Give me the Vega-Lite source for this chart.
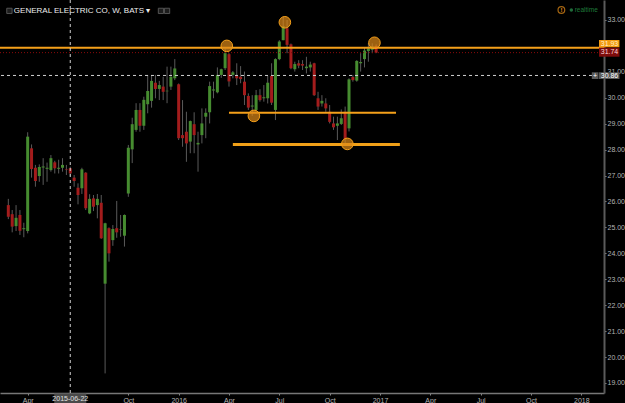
{
"$schema": "https://vega.github.io/schema/vega-lite/v6.json",
"width": 604, "height": 393,
"autosize": {"type": "none"},
"padding": {"left": 0, "top": 0, "right": 21, "bottom": 10},
"background": "#000000",
"config": {"view": {"stroke": null, "fill": "#000000"}, "font": "Liberation Sans",
"axisY": {"labelOverlap": false, "labelBound": false, "labelSeparation": 0}},
"datasets": {
"candles": [
{"d":"2015-03-02","o":25.86,"h":26.10,"l":25.32,"c":25.41},
{"d":"2015-03-09","o":25.51,"h":25.67,"l":24.81,"c":25.03},
{"d":"2015-03-16","o":25.05,"h":25.86,"l":24.86,"c":25.37},
{"d":"2015-03-23","o":25.48,"h":25.67,"l":24.71,"c":24.87},
{"d":"2015-03-30","o":24.93,"h":25.18,"l":24.62,"c":24.97},
{"d":"2015-04-06","o":24.86,"h":28.67,"l":24.77,"c":28.50},
{"d":"2015-04-13","o":28.05,"h":28.20,"l":26.92,"c":27.25},
{"d":"2015-04-20","o":27.30,"h":27.41,"l":26.57,"c":26.79},
{"d":"2015-04-27","o":26.98,"h":27.43,"l":26.76,"c":27.33},
{"d":"2015-05-04","o":27.31,"h":27.67,"l":26.64,"c":27.35},
{"d":"2015-05-11","o":27.26,"h":27.50,"l":26.76,"c":27.30},
{"d":"2015-05-18","o":27.21,"h":27.79,"l":27.15,"c":27.67},
{"d":"2015-05-25","o":27.51,"h":27.57,"l":27.08,"c":27.28},
{"d":"2015-06-01","o":27.26,"h":27.61,"l":27.08,"c":27.30},
{"d":"2015-06-08","o":27.30,"h":27.67,"l":27.15,"c":27.41},
{"d":"2015-06-15","o":27.25,"h":27.41,"l":27.02,"c":27.23},
{"d":"2015-06-22","o":27.28,"h":27.34,"l":26.96,"c":27.08},
{"d":"2015-06-29","o":26.92,"h":27.02,"l":26.57,"c":26.79},
{"d":"2015-07-06","o":26.53,"h":26.70,"l":25.89,"c":26.25},
{"d":"2015-07-13","o":26.51,"h":27.30,"l":26.29,"c":27.24},
{"d":"2015-07-20","o":27.11,"h":27.13,"l":25.67,"c":25.74},
{"d":"2015-07-27","o":25.54,"h":26.28,"l":25.51,"c":26.10},
{"d":"2015-08-03","o":26.12,"h":26.25,"l":25.63,"c":25.80},
{"d":"2015-08-10","o":25.86,"h":26.29,"l":25.35,"c":26.10},
{"d":"2015-08-17","o":25.95,"h":26.25,"l":24.56,"c":24.58},
{"d":"2015-08-24","o":22.83,"h":25.18,"l":19.37,"c":25.16},
{"d":"2015-08-31","o":24.97,"h":25.00,"l":23.68,"c":24.00},
{"d":"2015-09-07","o":24.51,"h":25.09,"l":24.29,"c":24.94},
{"d":"2015-09-14","o":24.97,"h":26.02,"l":24.60,"c":24.81},
{"d":"2015-09-21","o":24.92,"h":25.48,"l":24.64,"c":24.94},
{"d":"2015-09-28","o":24.68,"h":25.50,"l":24.26,"c":25.48},
{"d":"2015-10-05","o":26.31,"h":28.18,"l":26.18,"c":28.07},
{"d":"2015-10-12","o":28.01,"h":29.23,"l":27.48,"c":28.98},
{"d":"2015-10-19","o":28.76,"h":29.79,"l":28.69,"c":29.53},
{"d":"2015-10-26","o":29.53,"h":29.79,"l":28.69,"c":28.92},
{"d":"2015-11-02","o":28.92,"h":30.04,"l":28.76,"c":29.92},
{"d":"2015-11-09","o":29.75,"h":30.88,"l":29.40,"c":30.26},
{"d":"2015-11-16","o":29.88,"h":30.88,"l":29.62,"c":30.65},
{"d":"2015-11-23","o":30.58,"h":30.88,"l":29.98,"c":30.34},
{"d":"2015-11-30","o":30.34,"h":30.65,"l":29.91,"c":30.49},
{"d":"2015-12-07","o":30.43,"h":30.81,"l":29.91,"c":30.23},
{"d":"2015-12-14","o":30.25,"h":31.20,"l":29.79,"c":30.27},
{"d":"2015-12-21","o":30.43,"h":31.20,"l":30.30,"c":30.81},
{"d":"2015-12-28","o":30.75,"h":31.49,"l":30.68,"c":31.13},
{"d":"2016-01-04","o":30.52,"h":30.55,"l":28.37,"c":28.44},
{"d":"2016-01-11","o":28.56,"h":29.91,"l":28.11,"c":28.44},
{"d":"2016-01-18","o":28.69,"h":29.46,"l":27.53,"c":28.24},
{"d":"2016-01-25","o":28.31,"h":29.12,"l":27.86,"c":29.10},
{"d":"2016-02-01","o":28.98,"h":29.44,"l":27.86,"c":28.56},
{"d":"2016-02-08","o":28.20,"h":28.69,"l":27.15,"c":28.26},
{"d":"2016-02-15","o":28.56,"h":29.59,"l":28.24,"c":29.01},
{"d":"2016-02-22","o":29.27,"h":29.59,"l":28.44,"c":29.42},
{"d":"2016-02-29","o":29.44,"h":30.62,"l":29.01,"c":30.45},
{"d":"2016-03-07","o":30.28,"h":30.62,"l":29.98,"c":30.32},
{"d":"2016-03-14","o":30.21,"h":31.17,"l":30.17,"c":30.88},
{"d":"2016-03-21","o":30.88,"h":31.12,"l":30.77,"c":31.10},
{"d":"2016-03-28","o":31.14,"h":31.91,"l":31.07,"c":31.72},
{"d":"2016-04-04","o":31.68,"h":31.72,"l":30.43,"c":30.63},
{"d":"2016-04-11","o":30.88,"h":31.03,"l":30.75,"c":30.98},
{"d":"2016-04-18","o":30.84,"h":31.33,"l":30.49,"c":30.75},
{"d":"2016-04-25","o":30.81,"h":31.22,"l":30.56,"c":30.72},
{"d":"2016-05-02","o":30.62,"h":31.01,"l":29.72,"c":30.10},
{"d":"2016-05-09","o":30.07,"h":30.17,"l":29.53,"c":29.62},
{"d":"2016-05-16","o":29.66,"h":30.10,"l":29.30,"c":29.70},
{"d":"2016-05-23","o":29.53,"h":30.30,"l":29.49,"c":30.10},
{"d":"2016-05-30","o":30.10,"h":30.33,"l":29.85,"c":29.91},
{"d":"2016-06-06","o":29.98,"h":30.49,"l":29.85,"c":30.02},
{"d":"2016-06-13","o":29.98,"h":30.84,"l":29.78,"c":30.58},
{"d":"2016-06-20","o":30.84,"h":31.33,"l":29.72,"c":29.81},
{"d":"2016-06-27","o":29.53,"h":31.52,"l":29.14,"c":31.49},
{"d":"2016-07-04","o":31.49,"h":32.22,"l":31.45,"c":32.17},
{"d":"2016-07-11","o":32.22,"h":33.13,"l":32.22,"c":32.76},
{"d":"2016-07-18","o":32.68,"h":33.00,"l":31.72,"c":32.04},
{"d":"2016-07-25","o":32.06,"h":32.09,"l":31.10,"c":31.14},
{"d":"2016-08-01","o":31.10,"h":31.39,"l":31.01,"c":31.30},
{"d":"2016-08-08","o":31.33,"h":31.45,"l":31.14,"c":31.24},
{"d":"2016-08-15","o":31.30,"h":31.45,"l":31.07,"c":31.24},
{"d":"2016-08-22","o":31.14,"h":31.58,"l":30.94,"c":31.20},
{"d":"2016-08-29","o":31.17,"h":31.39,"l":31.01,"c":31.28},
{"d":"2016-09-05","o":31.33,"h":31.35,"l":30.07,"c":30.10},
{"d":"2016-09-12","o":29.98,"h":30.23,"l":29.53,"c":29.66},
{"d":"2016-09-19","o":29.78,"h":30.10,"l":29.66,"c":29.88},
{"d":"2016-09-26","o":29.78,"h":29.98,"l":29.46,"c":29.59},
{"d":"2016-10-03","o":29.46,"h":29.72,"l":29.01,"c":29.07},
{"d":"2016-10-10","o":29.01,"h":29.27,"l":28.76,"c":28.86},
{"d":"2016-10-17","o":28.92,"h":29.27,"l":28.37,"c":29.01},
{"d":"2016-10-24","o":28.99,"h":29.55,"l":28.95,"c":29.21},
{"d":"2016-10-31","o":29.46,"h":29.66,"l":28.24,"c":28.40},
{"d":"2016-11-07","o":28.82,"h":30.75,"l":28.70,"c":30.71},
{"d":"2016-11-14","o":30.80,"h":30.88,"l":30.62,"c":30.68},
{"d":"2016-11-21","o":30.66,"h":31.45,"l":30.62,"c":31.42},
{"d":"2016-11-28","o":31.33,"h":31.72,"l":31.01,"c":31.38},
{"d":"2016-12-05","o":31.49,"h":31.95,"l":31.17,"c":31.82},
{"d":"2016-12-12","o":31.80,"h":32.11,"l":31.39,"c":31.90},
{"d":"2016-12-19","o":31.85,"h":32.10,"l":31.72,"c":31.98},
{"d":"2016-12-26","o":32.00,"h":32.06,"l":31.72,"c":31.74}
]
},
"layer": [
{
"data": {"name": "candles"},
"mark": {"type": "rule", "color": "#5a5a5a", "strokeWidth": 1},
"encoding": {
"x": {"field": "d", "type": "temporal", "title": null,
"scale": {"type": "utc", "domain": [{"year": 2015, "month": 2, "date": 24, "utc": true}, {"year": 2018, "month": 2, "date": 2, "utc": true}]},
"axis": {"title": null, "grid": false,
"values": [{"year":2015,"month":4,"date":6,"utc":true},{"year":2015,"month":10,"date":5,"utc":true},{"year":2016,"month":1,"date":4,"utc":true},{"year":2016,"month":4,"date":4,"utc":true},{"year":2016,"month":7,"date":4,"utc":true},{"year":2016,"month":10,"date":3,"utc":true},{"year":2017,"month":1,"date":2,"utc":true},{"year":2017,"month":4,"date":3,"utc":true},{"year":2017,"month":7,"date":3,"utc":true},{"year":2017,"month":10,"date":2,"utc":true},{"year":2018,"month":1,"date":1,"utc":true}],
"labelExpr": "utcmonth(datum.value) == 0 ? utcFormat(datum.value, '%Y') : utcFormat(datum.value, '%b')",
"labelColor": "#b4b4b4", "labelFontSize": 7, "labelFont": "Liberation Sans", "tickColor": "#888888", "tickSize": 2, "labelPadding": 1,
"domainColor": "#777777", "domainWidth": 1.5, "labelOverlap": false, "labelFlush": false}},
"y": {"field": "l", "type": "quantitative", "title": null,
"scale": {"domain": [18.614, 33.77], "nice": false, "zero": false},
"axis": {"title": null, "orient": "right", "grid": false, "tickCount": 15, "format": ".2f",
"labelExpr": "datum.value == 32 ? '' : datum.label",
"labelColor": "#b4b4b4", "labelFontSize": 7, "labelFont": "Liberation Sans", "tickColor": "#888888", "tickSize": 2, "labelPadding": 1,
"labelOverlap": false, "labelFlush": false,
"domainColor": "#5a5a5a", "domainWidth": 2}},
"y2": {"field": "h"}
}
},
{
"data": {"name": "candles"},
"mark": {"type": "bar", "size": 3},
"encoding": {
"x": {"field": "d", "type": "temporal", "title": null},
"y": {"field": "o", "type": "quantitative", "title": null},
"y2": {"field": "c"},
"color": {"condition": {"test": "datum.c >= datum.o", "value": "#468c30"}, "value": "#a31c1c"}
}
},
{
"data": {"values": [{"price": 31.74}]},
"mark": {"type": "rule", "color": "#8b0a0a", "strokeWidth": 1, "strokeDash": [1, 2]},
"encoding": {"y": {"field": "price", "type": "quantitative", "title": null}}
},
{
"data": {"values": [{"price": 31.93}]},
"mark": {"type": "rule", "color": "#f5a01a", "strokeWidth": 2},
"encoding": {"y": {"field": "price", "type": "quantitative", "title": null}}
},
{
"data": {"values": [{"start": "2016-04-04", "end": "2017-01-31", "price": 29.42}]},
"mark": {"type": "rule", "color": "#f5a01a", "strokeWidth": 2},
"encoding": {"x": {"field": "start", "type": "temporal", "title": null}, "x2": {"field": "end"}, "y": {"field": "price", "type": "quantitative", "title": null}}
},
{
"data": {"values": [{"start": "2016-04-11", "end": "2017-02-07", "price": 28.20}]},
"mark": {"type": "rule", "color": "#f0a018", "strokeWidth": 3},
"encoding": {"x": {"field": "start", "type": "temporal", "title": null}, "x2": {"field": "end"}, "y": {"field": "price", "type": "quantitative", "title": null}}
},
{
"data": {"values": [
{"date": "2016-03-31", "price": 32.00},
{"date": "2016-07-14", "price": 32.91},
{"date": "2016-05-19", "price": 29.30},
{"date": "2016-11-04", "price": 28.22},
{"date": "2016-12-23", "price": 32.12}
]},
"mark": {"type": "point", "shape": "circle", "filled": true, "size": 135, "fill": "#e08a18", "fillOpacity": 0.7, "stroke": "#f5a01a", "strokeWidth": 1, "strokeOpacity": 1},
"encoding": {"x": {"field": "date", "type": "temporal", "title": null}, "y": {"field": "price", "type": "quantitative", "title": null}}
},
{
"data": {"values": [{"price": 30.86}]},
"mark": {"type": "rule", "color": "#d0d0d0", "strokeWidth": 1, "strokeDash": [3, 3]},
"encoding": {"y": {"field": "price", "type": "quantitative", "title": null}}
},
{
"data": {"values": [{"date": "2015-06-22"}]},
"mark": {"type": "rule", "color": "#d0d0d0", "strokeWidth": 1, "strokeDash": [3, 3]},
"encoding": {"x": {"field": "date", "type": "temporal", "title": null}}
},
{
"data": {"values": [{"start": "2015-05-24", "end": "2015-07-21", "top": 18.595, "bottom": 18.228}]},
"mark": {"type": "rect", "fill": "#4a4a4a"},
"encoding": {"x": {"field": "start", "type": "temporal", "title": null}, "x2": {"field": "end"}, "y": {"field": "top", "type": "quantitative", "title": null}, "y2": {"field": "bottom"}}
},
{
"data": {"values": [{"date": "2015-06-22", "price": 18.40, "label": "2015-06-22"}]},
"mark": {"type": "text", "color": "#e0e0e0", "fontSize": 7, "align": "center", "baseline": "middle"},
"encoding": {"x": {"field": "date", "type": "temporal", "title": null}, "y": {"field": "price", "type": "quantitative", "title": null}, "text": {"field": "label"}}
},
{
"data": {"values": [{"start": "2018-02-02", "end": "2018-03-11", "top": 32.227, "bottom": 31.946}]},
"mark": {"type": "rect", "fill": "#f29b11"},
"encoding": {"x": {"field": "start", "type": "temporal", "title": null}, "x2": {"field": "end"}, "y": {"field": "top", "type": "quantitative", "title": null}, "y2": {"field": "bottom"}}
},
{
"data": {"values": [{"start": "2018-02-02", "end": "2018-03-11", "top": 31.93, "bottom": 31.583}]},
"mark": {"type": "rect", "fill": "#7d0c0c"},
"encoding": {"x": {"field": "start", "type": "temporal", "title": null}, "x2": {"field": "end"}, "y": {"field": "top", "type": "quantitative", "title": null}, "y2": {"field": "bottom"}}
},
{
"data": {"values": [{"start": "2018-02-02", "end": "2018-03-11", "top": 30.982, "bottom": 30.723}, {"start": "2018-01-20", "end": "2018-02-01", "top": 30.982, "bottom": 30.723}]},
"mark": {"type": "rect", "fill": "#5a5a5a"},
"encoding": {"x": {"field": "start", "type": "temporal", "title": null}, "x2": {"field": "end"}, "y": {"field": "top", "type": "quantitative", "title": null}, "y2": {"field": "bottom"}}
},
{
"data": {"values": [{"date": "2018-02-21", "price": 32.089, "label": "31.93"}]},
"mark": {"type": "text", "color": "#fff1c8", "fontSize": 7, "align": "center", "baseline": "middle"},
"encoding": {"x": {"field": "date", "type": "temporal", "title": null}, "y": {"field": "price", "type": "quantitative", "title": null}, "text": {"field": "label"}}
},
{
"data": {"values": [{"date": "2018-02-21", "price": 31.757, "label": "31.74"}]},
"mark": {"type": "text", "color": "#ffd6d6", "fontSize": 7, "align": "center", "baseline": "middle"},
"encoding": {"x": {"field": "date", "type": "temporal", "title": null}, "y": {"field": "price", "type": "quantitative", "title": null}, "text": {"field": "label"}}
},
{
"data": {"values": [{"date": "2018-02-21", "price": 30.855, "label": "30.86"}, {"date": "2018-01-26", "price": 30.855, "label": "+"}]},
"mark": {"type": "text", "color": "#ffffff", "fontSize": 7, "align": "center", "baseline": "middle"},
"encoding": {"x": {"field": "date", "type": "temporal", "title": null}, "y": {"field": "price", "type": "quantitative", "title": null}, "text": {"field": "label"}}
},
{
"data": {"values": [{"date": "2015-03-12", "price": 33.35, "label": "GENERAL ELECTRIC CO, W, BATS ▾"}]},
"mark": {"type": "text", "color": "#eeeeee", "fontSize": 8, "align": "left", "baseline": "middle"},
"encoding": {"x": {"field": "date", "type": "temporal", "title": null}, "y": {"field": "price", "type": "quantitative", "title": null}, "text": {"field": "label"}}
},
{
"data": {"values": [{"date": "2015-03-04", "price": 33.35}, {"date": "2015-12-03", "price": 33.35}, {"date": "2015-12-14", "price": 33.35}]},
"mark": {"type": "point", "shape": "square", "filled": true, "size": 28, "fill": "#2a2a2a", "stroke": "#777777", "strokeWidth": 1},
"encoding": {"x": {"field": "date", "type": "temporal", "title": null}, "y": {"field": "price", "type": "quantitative", "title": null}}
},
{
"data": {"values": [{"date": "2017-11-26", "price": 33.384}]},
"mark": {"type": "point", "shape": "circle", "filled": false, "size": 45, "stroke": "#e8901a", "strokeWidth": 1.2},
"encoding": {"x": {"field": "date", "type": "temporal", "title": null}, "y": {"field": "price", "type": "quantitative", "title": null}}
},
{
"data": {"values": [{"date": "2017-11-26", "price": 33.384, "label": "!"}]},
"mark": {"type": "text", "color": "#e8901a", "fontSize": 6, "fontWeight": "bold", "align": "center", "baseline": "middle"},
"encoding": {"x": {"field": "date", "type": "temporal", "title": null}, "y": {"field": "price", "type": "quantitative", "title": null}, "text": {"field": "label"}}
},
{
"data": {"values": [{"date": "2017-12-14", "price": 33.384}]},
"mark": {"type": "point", "shape": "circle", "filled": true, "size": 12, "fill": "#2e9a52", "strokeWidth": 0},
"encoding": {"x": {"field": "date", "type": "temporal", "title": null}, "y": {"field": "price", "type": "quantitative", "title": null}}
},
{
"data": {"values": [{"date": "2017-12-20", "price": 33.384, "label": "realtime"}]},
"mark": {"type": "text", "color": "#1f7a3a", "fontSize": 6.5, "align": "left", "baseline": "middle"},
"encoding": {"x": {"field": "date", "type": "temporal", "title": null}, "y": {"field": "price", "type": "quantitative", "title": null}, "text": {"field": "label"}}
}
]
}
